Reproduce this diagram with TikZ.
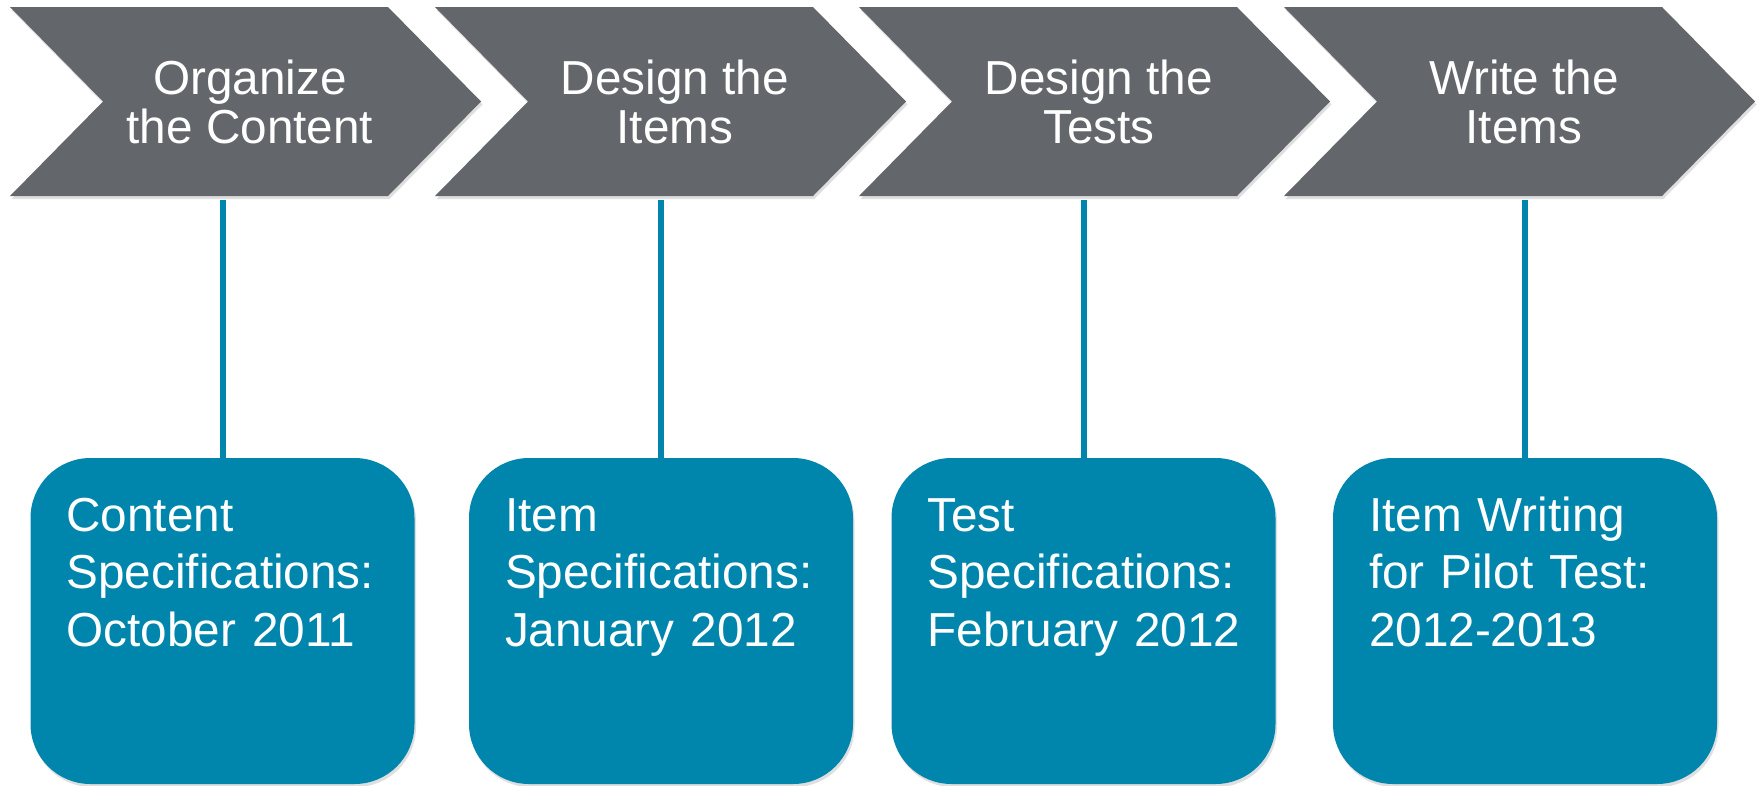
\documentclass[tikz,border=0pt]{standalone}
\usepackage{fontspec}
\setmainfont{Liberation Sans}
\usepackage{tikz}
\usetikzlibrary{positioning}
\usetikzlibrary{shadows}
\definecolor{stepgray}{RGB}{99,102,106}
\definecolor{specblue}{RGB}{0,134,173}
\tikzset{chevron/.style = {fill = stepgray, drop shadow = {opacity = 0.25, shadow xshift = 1.5pt, shadow yshift = -3pt}}}
\tikzset{steptext/.style = {inner sep = 0, minimum width = 471pt, minimum height = 189pt, align = center, text = white, font = \fontsize{47.7}{49}\selectfont}}
\tikzset{specbox/.style = {fill = specblue, rounded corners = 60pt, inner sep = 0, minimum width = 384pt, minimum height = 326pt, text width = 312pt, align = left, text height = 34pt, text depth = 214pt, text = white, font = \fontsize{47.7}{57.5}\selectfont, drop shadow = {opacity = 0.25, shadow xshift = 1.5pt, shadow yshift = -3pt}}}
\tikzset{link/.style = {draw = specblue, line width = 6pt, shorten <= 4pt}}

\begin{document}
\begin{tikzpicture}[x = 1pt, y = -1pt]
      \useasboundingbox (0, 0) rectangle (1762, 785);

      % the four steps
      \foreach \i/\L/\txt in {1/10/{Organize\\the Content}, 2/435/{Design the\\Items}, 3/859/{Design the\\Tests}, 4/1284/{Write the\\Items}} {
        \fill [chevron] (\L, 7) -- ++(378, 0) -- ++(93, 94.5) -- ++(-93, 94.5) -- ++(-378, 0) -- ++(93, -94.5) -- cycle;
        \node [steptext] (step\i) at (\L + 240, 101.5) {\txt};
      }

      % dates
      \foreach \i/\x/\txt in {1/222.5/{Content\\Specifications:\\October~2011}, 2/661/{Item\\Specifications:\\January~2012}, 3/1083.5/{Test\\Specifications:\\February~2012}, 4/1525/{Item~Writing\\for~Pilot~Test:\\2012-2013}} {
        \node [specbox] (spec\i) at (\x, 621) {\txt};
      }

      \foreach \i in {1,...,4} {
        \draw [link] (step\i.south -| spec\i.north) -- (spec\i.north);
      }
\end{tikzpicture}
\end{document}
